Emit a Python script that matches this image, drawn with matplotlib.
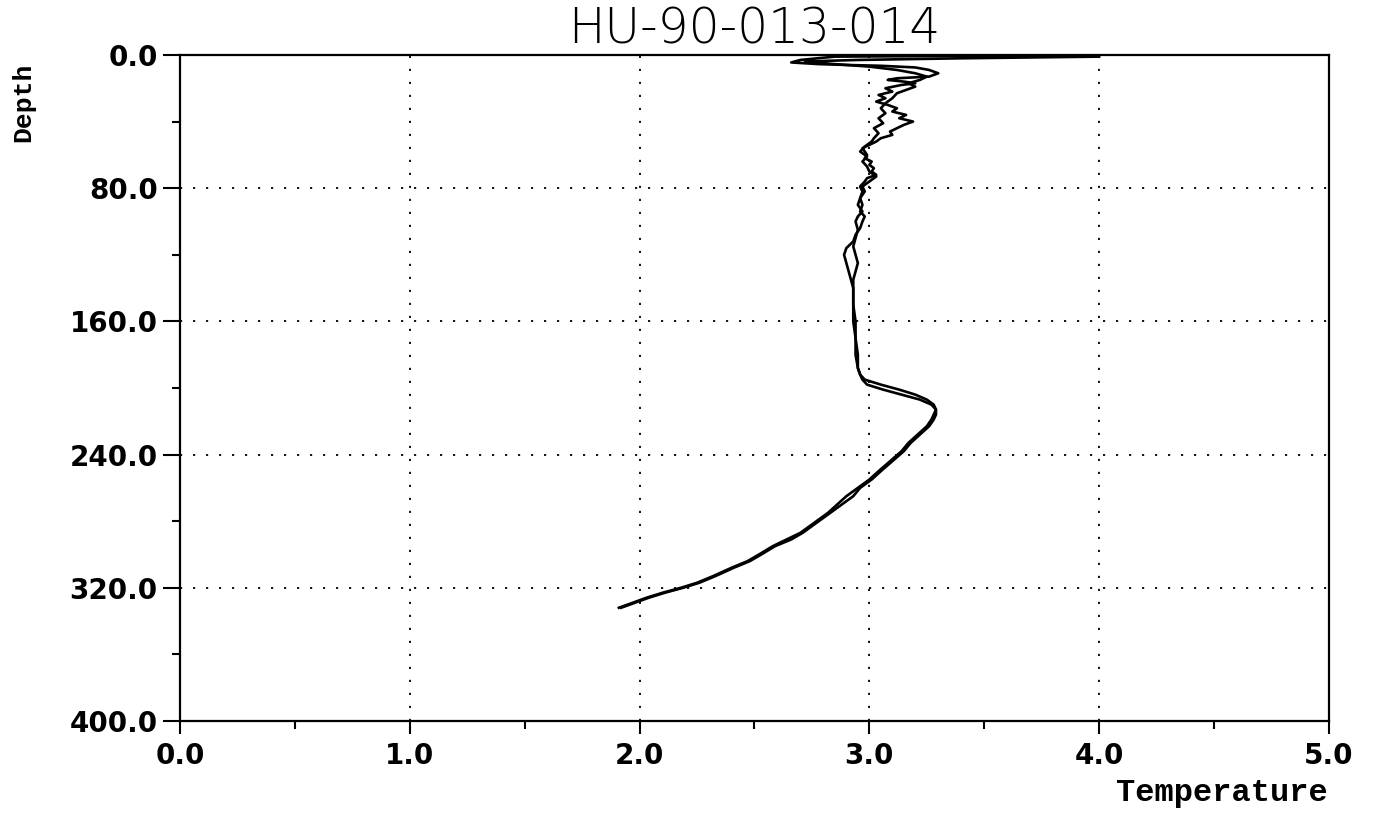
import matplotlib.pyplot as plt
from matplotlib.ticker import MultipleLocator, FormatStrFormatter

# down cast: depth (dbar) and temperature (deg C)
depth_down = [0.3, 0.6, 1.0, 3.0, 4.5, 5.5, 6.0, 6.5, 7.5, 9, 11, 13, 14, 15, 16, 17, 18, 20,
              22, 24, 26, 28, 30, 32, 34, 36, 38, 40, 42, 44, 46, 48, 50, 52, 54, 56, 58, 60,
              62, 64, 66, 68, 70, 72, 74, 76, 79, 82, 86, 90, 94, 97, 100, 105, 110, 115, 120,
              125, 130, 135, 140, 150, 160, 170, 180, 188, 192, 195, 198, 201, 204, 207, 210,
              213, 216, 219, 223, 228, 233, 238, 244, 250, 255, 260, 265, 270, 275, 280, 287,
              291, 295, 300, 304, 308, 313, 317, 320, 323, 326, 329, 332]
temp_down = [3.90, 3.40, 2.85, 2.70, 2.66, 2.78, 2.90, 3.05, 3.20, 3.26, 3.30, 3.26, 3.12, 3.08,
             3.15, 3.20, 3.14, 3.07, 3.10, 3.04, 3.07, 3.03, 3.08, 3.12, 3.10, 3.16, 3.13, 3.19,
             3.15, 3.12, 3.09, 3.10, 3.05, 3.03, 3.00, 2.97, 2.98, 2.99, 2.98, 3.01, 3.00, 3.02,
             3.01, 3.03, 2.99, 2.98, 2.96, 2.97, 2.96, 2.95, 2.97, 2.95, 2.94, 2.95, 2.94, 2.93,
             2.94, 2.95, 2.94, 2.93, 2.93, 2.93, 2.93, 2.94, 2.94, 2.95, 2.96, 2.98, 3.05, 3.13,
             3.20, 3.25, 3.28, 3.29, 3.28, 3.27, 3.25, 3.21, 3.17, 3.14, 3.09, 3.04, 3.00, 2.95,
             2.90, 2.86, 2.82, 2.77, 2.70, 2.64, 2.58, 2.52, 2.47, 2.40, 2.32, 2.25, 2.18, 2.10,
             2.03, 1.97, 1.91]

# up cast
depth_up = [332, 329, 326, 323, 320, 317, 313, 308, 304, 300, 295, 291, 287, 283, 280, 275, 270,
            265, 260, 255, 250, 244, 238, 233, 228, 223, 219, 216, 213, 210, 207, 204, 201, 198,
            195, 192, 188, 180, 170, 160, 150, 140, 135, 130, 125, 120, 116, 112, 108, 104, 100,
            97, 94, 90, 86, 82, 79, 76, 73, 70, 67, 64, 61, 58, 55, 52, 50, 47, 44, 41, 38, 35,
            32, 29, 26, 23, 21, 19, 17, 15, 13, 11, 9, 7, 6, 5, 4, 3.5, 3, 2, 1]
temp_up = [1.92, 1.98, 2.04, 2.11, 2.19, 2.26, 2.33, 2.41, 2.48, 2.53, 2.59, 2.66, 2.71, 2.75,
           2.78, 2.83, 2.88, 2.93, 2.96, 3.01, 3.05, 3.10, 3.15, 3.18, 3.22, 3.26, 3.28, 3.29,
           3.29, 3.27, 3.22, 3.14, 3.06, 2.99, 2.97, 2.96, 2.95, 2.95, 2.94, 2.94, 2.93, 2.93,
           2.92, 2.91, 2.90, 2.89, 2.90, 2.93, 2.94, 2.96, 2.97, 2.98, 2.96, 2.97, 2.96, 2.98,
           2.97, 3.00, 3.03, 3.00, 2.99, 2.97, 2.99, 2.96, 2.98, 3.01, 3.02, 3.04, 3.02, 3.06,
           3.04, 3.07, 3.05, 3.07, 3.10, 3.12, 3.16, 3.20, 3.17, 3.22, 3.25, 3.20, 3.12, 3.00,
           2.90, 2.80, 2.72, 2.82, 2.95, 3.40, 4.00]

fig = plt.figure(figsize=(13.8, 8.13), dpi=100)
ax = fig.add_axes([0.1304, 0.1132, 0.8326, 0.8192])

ax.plot(temp_down, depth_down, color='black', linewidth=1.9)
ax.plot(temp_up, depth_up, color='black', linewidth=1.9)

ax.set_xlim(0, 5)
ax.set_ylim(400, 0)
ax.xaxis.set_major_locator(MultipleLocator(1))
ax.xaxis.set_minor_locator(MultipleLocator(0.5))
ax.yaxis.set_major_locator(MultipleLocator(80))
ax.yaxis.set_minor_locator(MultipleLocator(40))
ax.xaxis.set_major_formatter(FormatStrFormatter('%.1f'))
ax.yaxis.set_major_formatter(FormatStrFormatter('%.1f'))

ax.grid(True, which='major', color='black', linestyle=(0, (1.2, 6)), linewidth=1.3)

for s in ax.spines.values():
    s.set_linewidth(1.6)

ax.tick_params(axis='both', which='major', direction='out', width=1.5, colors='black',
               labelsize=20)
ax.tick_params(axis='x', which='major', length=9, pad=6)
ax.tick_params(axis='y', which='major', length=12, pad=4)
ax.tick_params(axis='both', which='minor', direction='out', length=6, width=1.5)
for lab in ax.get_xticklabels() + ax.get_yticklabels():
    lab.set_fontweight('bold')

ax.set_title('HU-90-013-014', fontsize=35, fontweight='light', pad=8)

fig.text(1328 / 1380, 0.0246, 'Temperature', ha='right', va='center',
         family='Liberation Mono', fontweight='bold', fontsize=23)
fig.text(0.0167, 0.874, 'Depth', ha='center', va='center', rotation=90,
         family='Liberation Mono', fontweight='bold', fontsize=19)

fig.savefig('out.png', dpi=100)
